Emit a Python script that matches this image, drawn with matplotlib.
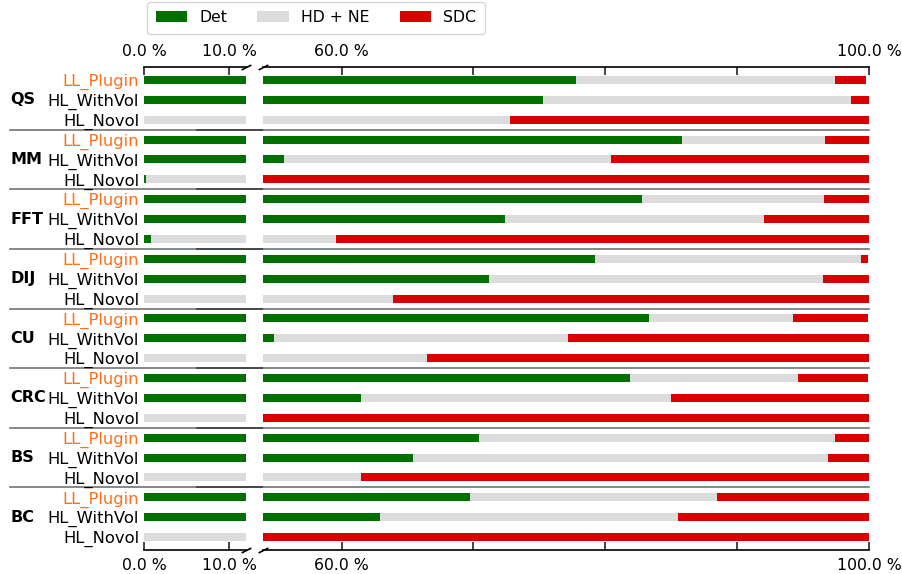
import matplotlib
matplotlib.use("Agg")
import matplotlib.pyplot as plt
import numpy as np
from matplotlib.transforms import blended_transform_factory

groups = ['QS', 'MM', 'FFT', 'DIJ', 'CU', 'CRC', 'BS', 'BC']
variants = ['LL_Plugin', 'HL_WithVol', 'HL_Novol']

# values (%) per row: group by group, variants in order above
det = [77.8, 75.3, 0.0,
       85.8, 55.6, 0.2,
       82.8, 72.4, 0.8,
       79.2, 71.2, 0.0,
       83.3, 54.9, 0.0,
       81.9, 61.5, 0.0,
       70.4, 65.4, 0.0,
       69.7, 62.9, 0.0]
hd_ne = [19.6, 23.3, 72.8,
         10.9, 24.8, 25.0,
         13.8, 19.6, 58.8,
         20.2, 25.3, 63.9,
         10.9, 22.3, 66.5,
         12.7, 23.5, 25.0,
         27.0, 31.5, 61.5,
         18.8, 22.6, 25.0]
sdc = [2.4, 1.4, 27.2,
       3.3, 19.6, 74.8,
       3.4, 8.0, 40.4,
       0.55, 3.5, 36.1,
       5.7, 22.8, 33.5,
       5.3, 15.0, 75.0,
       2.6, 3.1, 38.5,
       11.5, 14.5, 75.0]

series_names = ['Det', 'HD + NE', 'SDC']
colors = ['#007000', '#dcdcdc', '#d90000']
label_orange = '#ff6f1a'

left_ticks = [0, 10]
left_ticklabels = ['0.0 %', '10.0 %']
right_ticks = [60, 70, 80, 90, 100]
right_ticklabels = ['60.0 %', '', '', '', '100.0 %']

plt.rcParams['font.family'] = ['DejaVu Sans']
fig = plt.figure(figsize=(9.02, 5.74), dpi=100)
W, H = 902, 574
top_px, bot_px = 67, 550
axL = fig.add_axes([144 / W, 1 - bot_px / H, (246 - 144) / W, (bot_px - top_px) / H])
axR = fig.add_axes([262.5 / W, 1 - bot_px / H, (869 - 262.5) / W, (bot_px - top_px) / H])

n = len(det)
y = np.arange(n)
labels = [v for g in groups for v in variants]
bh = 0.4
series = [np.array(det), np.array(hd_ne), np.array(sdc)]

for ax in (axL, axR):
    left = np.zeros(n)
    for s, c, name in zip(series, colors, series_names):
        ax.barh(y, s, left=left, height=bh, color=c, label=name, linewidth=0)
        left = left + s
    ax.set_ylim(n - 0.35, -0.65)
    for side in ('left', 'right'):
        ax.spines[side].set_visible(False)
    for side in ('top', 'bottom'):
        ax.spines[side].set_linewidth(1.2)
    ax.tick_params(axis='x', which='both', direction='in', top=True, bottom=True,
                   labeltop=True, labelbottom=True, length=6, width=1.2,
                   labelsize=11.3, pad=6, color='#222222')
    ax.tick_params(axis='y', length=0)

axL.set_xlim(0, 12)
axR.set_xlim(54, 100)
axL.set_xticks(left_ticks)
axL.set_xticklabels(left_ticklabels)
axR.set_xticks(right_ticks)
axR.set_xticklabels(right_ticklabels)

axL.set_yticks(y)
axL.set_yticklabels(labels, fontsize=11.8)
for lab, t in zip(labels, axL.get_yticklabels()):
    if lab == 'LL_Plugin':
        t.set_color(label_orange)
axL.tick_params(axis='y', pad=3.5)
axR.set_yticks([])

# group labels
trans = blended_transform_factory(fig.transFigure, axL.transData)
for gi, g in enumerate(groups):
    axL.text(10 / W, gi * 3 + 1, g, transform=trans, fontsize=11.5,
             fontweight='bold', va='center', ha='left')

# separators between groups
for gi in range(1, len(groups)):
    yy = gi * 3 - 0.5
    axL.plot([-1.31, 1.17], [yy, yy], transform=blended_transform_factory(axL.transAxes, axL.transData),
             color='black', alpha=0.55, lw=1.2, clip_on=False, zorder=5)
    axR.plot([-0.108, 1.0], [yy, yy], transform=blended_transform_factory(axR.transAxes, axR.transData),
             color='black', alpha=0.55, lw=1.2, clip_on=False, zorder=5)

# break marks
mk = [(-1, -0.5), (1, 0.5)]
kw = dict(marker=mk, markersize=7, linestyle='none', color='k', mec='k', mew=1.2, clip_on=False)
axL.plot([1, 1], [0, 1], transform=axL.transAxes, **kw)
axR.plot([0, 0], [0, 1], transform=axR.transAxes, **kw)

handles, hlabels = axL.get_legend_handles_labels()
leg = axL.legend(handles, hlabels, ncol=3, loc='lower left',
                 bbox_to_anchor=(147 / W, 1 - 34 / H), bbox_transform=fig.transFigure,
                 fontsize=11.3, columnspacing=1.9, borderaxespad=0, borderpad=0.55,
                 frameon=True)
leg.get_frame().set_edgecolor('#cccccc')

fig.savefig('out.png', dpi=100)
